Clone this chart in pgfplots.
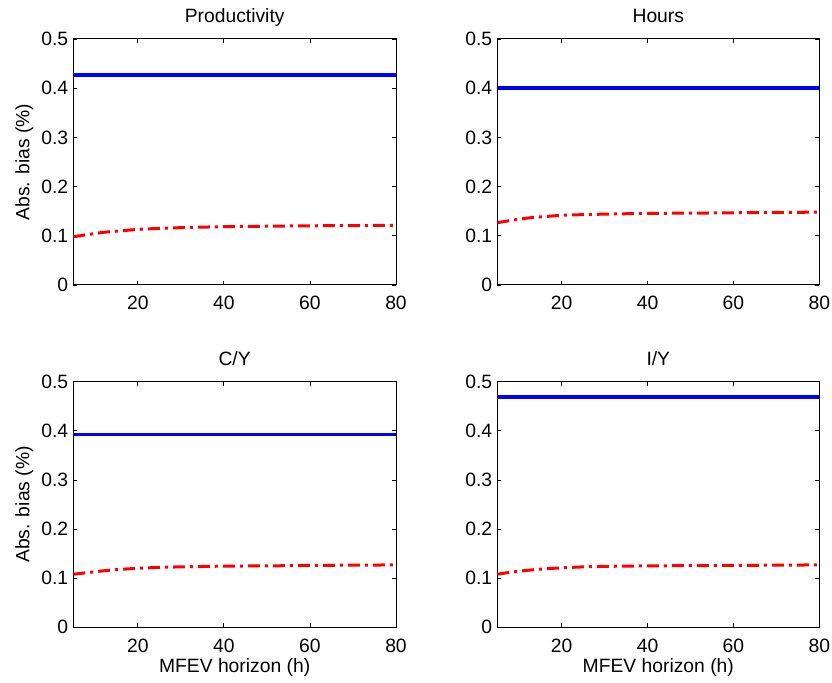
\documentclass[border=0pt]{standalone}
\usepackage{fontspec}
\setmainfont{Liberation Sans}
\usepackage{pgfplots}
\pgfplotsset{compat=1.18}
\newcommand{\fs}{\fontsize{19.3bp}{23bp}\selectfont}
\definecolor{mblue}{RGB}{0,0,255}
\definecolor{mred}{RGB}{255,0,0}
\pgfplotsset{
  mystyle/.style={
    scale only axis,
    xmin=5, xmax=80, ymin=0, ymax=0.5,
    xtick={20,40,60,80},
    ytick={0,0.1,0.2,0.3,0.4,0.5},
    tick align=inside,
    xtick pos=both, ytick pos=both,
    major tick length=4bp,
    every tick/.style={black, line width=0.8bp},
    axis line style={line width=1bp},
    /pgf/number format/assume math mode=true,
    tick label style={font=\fs},
    xticklabel style={anchor=base, yshift=-25bp},
    yticklabel style={anchor=east, inner sep=0pt, xshift=-5bp},
    every axis title shift=0pt,
    title style={font=\fs, at={(axis description cs:0.5,1.066)}, anchor=base},
    xlabel style={font=\fs, at={(axis description cs:0.5,-0.1833)}, anchor=base},
    ylabel style={font=\fs, at={(axis description cs:-0.1365,0.5)}, anchor=base, rotate=0},
  },
  blueline/.style={mblue, line width=3.5bp},
  redline/.style={mred, line width=3bp, dash pattern=on 12bp off 5bp on 3bp off 5bp},
}
\begin{document}
\begin{tikzpicture}[x=1bp,y=1bp]
\useasboundingbox (0,0) rectangle (832,683);

% Top-left: Productivity
\begin{axis}[mystyle, at={(73.3bp,398bp)}, anchor=south west,
  width=322.7bp, height=246bp, title={Productivity}, ylabel={Abs. bias (\%)}]
\addplot[blueline] coordinates {(5,0.427) (80,0.427)};
\addplot[redline, smooth] coordinates {
(5,0.098) (8,0.102) (12,0.107) (16,0.110) (20,0.113) (25,0.115) (30,0.1165)
(40,0.1185) (50,0.1195) (60,0.1203) (70,0.1208) (80,0.121)};
\end{axis}

% Top-right: Hours
\begin{axis}[mystyle, at={(497.3bp,398bp)}, anchor=south west,
  width=322bp, height=246bp, title={Hours}]
\addplot[blueline] coordinates {(5,0.400) (80,0.400)};
\addplot[redline, smooth] coordinates {
(5,0.1266) (8,0.131) (12,0.136) (16,0.139) (20,0.1416) (25,0.143) (30,0.144)
(40,0.1455) (50,0.146) (60,0.1468) (70,0.1475) (80,0.148)};
\end{axis}

% Bottom-left: C/Y
\begin{axis}[mystyle, at={(73.3bp,55.7bp)}, anchor=south west,
  width=322.7bp, height=245.6bp, title={C/Y}, ylabel={Abs. bias (\%)},
  xlabel={MFEV horizon (h)}]
\addplot[blueline] coordinates {(5,0.393) (80,0.393)};
\addplot[redline, smooth] coordinates {
(5,0.108) (8,0.111) (12,0.115) (16,0.118) (20,0.120) (25,0.122) (30,0.123)
(40,0.1245) (50,0.125) (60,0.126) (70,0.1265) (80,0.127)};
\end{axis}

% Bottom-right: I/Y
\begin{axis}[mystyle, at={(497.3bp,55.7bp)}, anchor=south west,
  width=322bp, height=245.6bp, title={I/Y},
  xlabel={MFEV horizon (h)}]
\addplot[blueline] coordinates {(5,0.469) (80,0.469)};
\addplot[redline, smooth] coordinates {
(5,0.108) (8,0.112) (12,0.116) (16,0.119) (20,0.121) (25,0.123) (30,0.124)
(40,0.125) (50,0.1255) (60,0.126) (70,0.1265) (80,0.127)};
\end{axis}
\end{tikzpicture}
\end{document}
